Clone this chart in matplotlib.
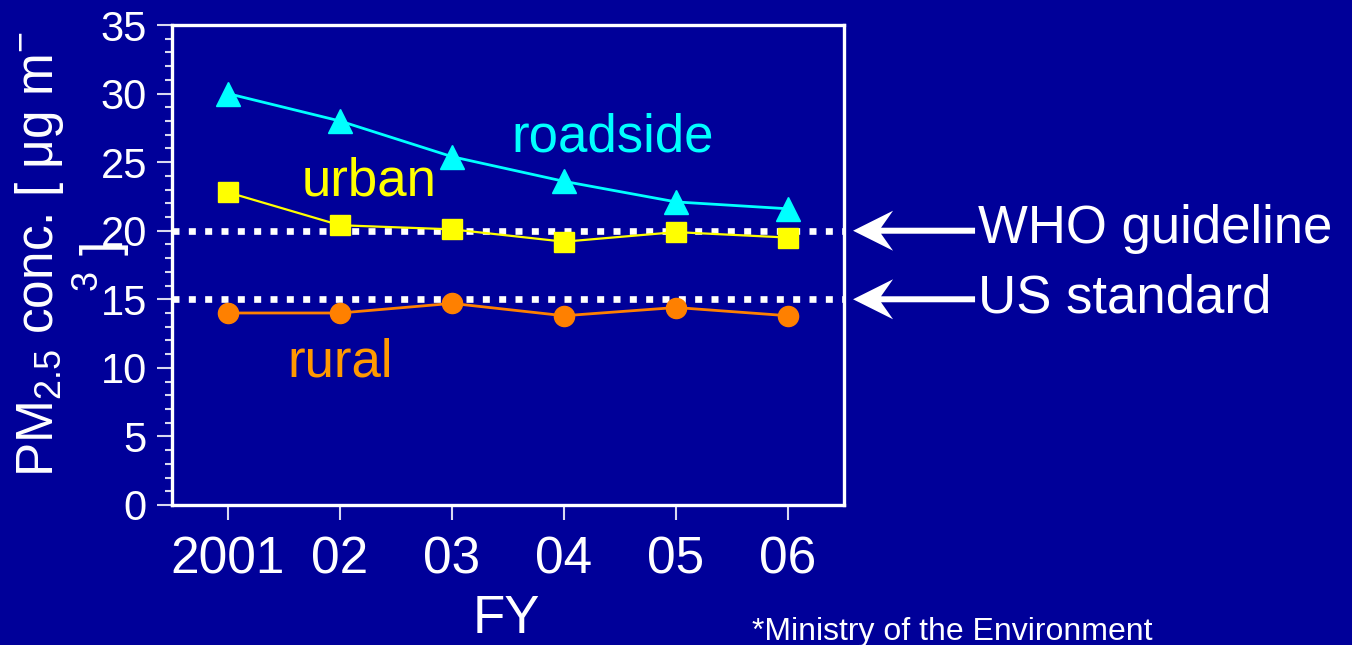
import matplotlib
matplotlib.use("Agg")
import matplotlib.pyplot as plt
import matplotlib.transforms as mtransforms
from matplotlib.patches import Polygon
from matplotlib.ticker import MultipleLocator

# ---- data -------------------------------------------------------------
years = [2001, 2002, 2003, 2004, 2005, 2006]
year_labels = ["2001", "02", "03", "04", "05", "06"]
roadside = [30.0, 28.0, 25.4, 23.6, 22.1, 21.6]
urban = [22.8, 20.4, 20.1, 19.2, 19.9, 19.5]
rural = [14.0, 14.0, 14.7, 13.8, 14.4, 13.8]
who_guideline = 20
us_standard = 15

# ---- style ------------------------------------------------------------
BG = "#000099"
CYAN = "#00FFFF"
YELLOW = "#FFFF00"
ORANGE = "#FF8000"
ORANGE_TXT = "#FF9900"
WHITE = "#FFFFFF"
TICK = "#D8D8F0"

plt.rcParams["font.family"] = ["Liberation Sans", "DejaVu Sans"]
plt.rcParams["mathtext.fontset"] = "custom"
plt.rcParams["mathtext.rm"] = "Liberation Sans"
plt.rcParams["mathtext.it"] = "Liberation Sans:italic"
plt.rcParams["mathtext.bf"] = "Liberation Sans:bold"

fig = plt.figure(figsize=(13.52, 6.45), dpi=100, facecolor=BG)
ax = fig.add_axes([0.1272, 0.2171, 0.4971, 0.7441], facecolor=BG)

# reference levels
for level in (who_guideline, us_standard):
    ax.axhline(level, color=WHITE, lw=4.8, linestyle=(0, (1.05, 1.4)),
               dash_capstyle="butt", zorder=2)

# series
ax.plot(years, roadside, color=CYAN, lw=2.0, marker="^", ms=17, mec=CYAN,
        mfc=CYAN, zorder=3)
ax.plot(years, urban, color=YELLOW, lw=1.6, marker="s", ms=15, mec=YELLOW,
        mfc=YELLOW, zorder=3)
ax.plot(years, rural, color=ORANGE, lw=2.0, marker="o", ms=14.5, mec=ORANGE,
        mfc=ORANGE, zorder=3)

# series names
ax.text(2004.43, 25.8, "roadside", color=CYAN, fontsize=38, ha="center",
        va="baseline")
ax.text(2002.26, 22.56, "urban", color=YELLOW, fontsize=38, ha="center",
        va="baseline")
ax.text(2002.0, 9.39, "rural", color=ORANGE_TXT, fontsize=38, ha="center",
        va="baseline")

# axes
ax.set_xlim(2000.5, 2006.5)
ax.set_ylim(0, 35)
ax.set_xticks(years)
ax.set_xticklabels(year_labels)
ax.yaxis.set_major_locator(MultipleLocator(5))
ax.yaxis.set_minor_locator(MultipleLocator(1))
ax.tick_params(axis="x", which="both", direction="out", length=11, width=1.5,
               color=TICK, labelcolor=WHITE, labelsize=37, pad=11,
               top=False, bottom=True)
ax.tick_params(axis="y", which="major", direction="out", length=11, width=1.5,
               color=TICK, labelcolor=WHITE, labelsize=30, pad=7,
               right=False, left=True)
ax.tick_params(axis="y", which="minor", direction="out", length=5, width=1.5,
               color=TICK, right=False, left=True)
for sp in ax.spines.values():
    sp.set_color(WHITE)
    sp.set_linewidth(2.4)

# axis titles
ax.set_xlabel("FY", color=WHITE, fontsize=38, va="baseline")
ax.xaxis.set_label_coords(0.497, -0.2667)
ax.set_ylabel(r"PM$_{\mathrm{2.5}}$ conc. [ μg m$^{-}$", color=WHITE,
              fontsize=37, va="baseline", rotation_mode="anchor")
ax.yaxis.set_label_coords(-0.177, 0.523)
ax.text(-0.0789, 0.494, r"${}^{\mathrm{3}}$ ]", transform=ax.transAxes,
        color=WHITE, fontsize=37, rotation=90, rotation_mode="anchor",
        ha="center", va="baseline", clip_on=False)

# arrows pointing at the reference levels, with their captions
blend = mtransforms.blended_transform_factory(ax.transAxes, ax.transData)
pt = 72.0 / fig.dpi
arrow_shape = [(0, 0), (40, 20), (28, 3), (122, 3), (122, -3), (28, -3),
               (40, -20)]
arrow_shape = [(x * pt, y * pt) for x, y in arrow_shape]
for level, caption, base in ((who_guideline, "WHO guideline", 19.07),
                             (us_standard, "US standard", 14.04)):
    tr = (mtransforms.Affine2D().scale(fig.dpi / 72.0)
          + mtransforms.ScaledTranslation(1.0134, level, blend))
    ax.add_patch(Polygon(arrow_shape, closed=True, facecolor=WHITE,
                         edgecolor="none", transform=tr, clip_on=False))
    ax.text(1.1994, base, caption, transform=blend, color=WHITE, fontsize=38,
            ha="left", va="baseline", clip_on=False)

fig.text(752 / 1352, 1 - 640 / 645, "*Ministry of the Environment",
         color=WHITE, fontsize=23, ha="left", va="baseline")

fig.savefig("out.png", dpi=100, facecolor=BG)
